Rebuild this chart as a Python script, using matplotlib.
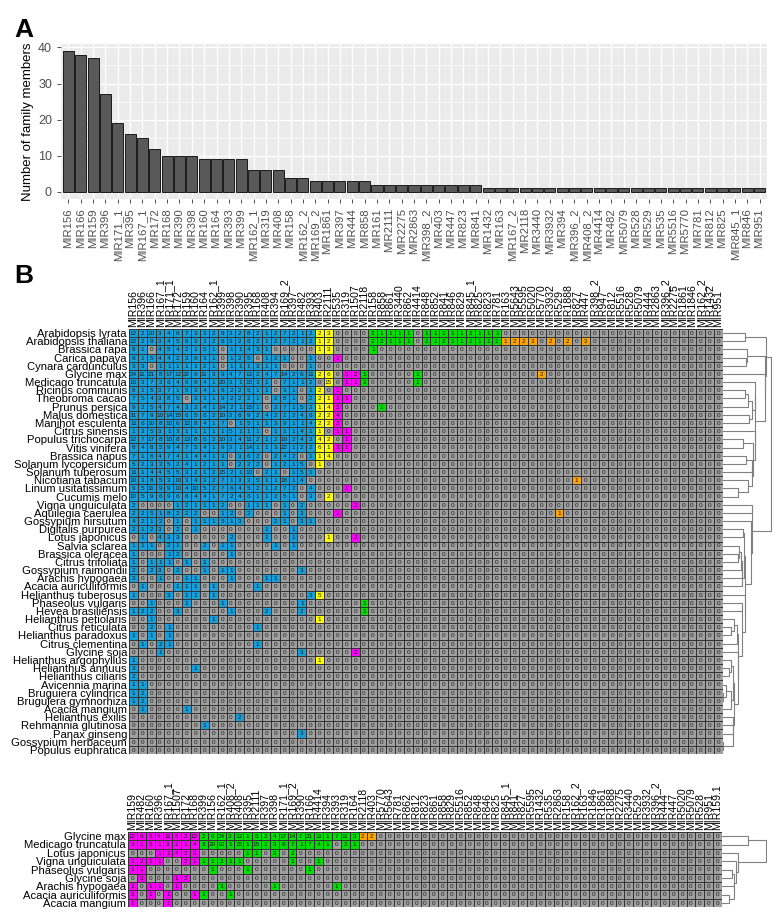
import numpy as np
import matplotlib
matplotlib.use("Agg")
import matplotlib.pyplot as plt
from matplotlib.colors import ListedColormap

plt.rcParams['font.family'] = ['Liberation Sans', 'DejaVu Sans']

# ---- Panel A: miRNA family sizes ----
fam_names = ['MIR156', 'MIR166', 'MIR159', 'MIR396', 'MIR171_1', 'MIR395', 'MIR167_1',
             'MIR172', 'MIR168', 'MIR390', 'MIR398', 'MIR160', 'MIR164', 'MIR393',
             'MIR399', 'MIR162_1', 'MIR319', 'MIR408', 'MIR158', 'MIR162_2', 'MIR169_2',
             'MIR1861', 'MIR397', 'MIR444', 'MIR858', 'MIR161', 'MIR2111', 'MIR2275',
             'MIR2863', 'MIR398_2', 'MIR403', 'MIR447', 'MIR823', 'MIR841', 'MIR1432',
             'MIR163', 'MIR167_2', 'MIR2118', 'MIR3440', 'MIR3932', 'MIR394', 'MIR396_2',
             'MIR408_2', 'MIR4414', 'MIR482', 'MIR5079', 'MIR528', 'MIR529', 'MIR535',
             'MIR5516', 'MIR5770', 'MIR781', 'MIR812', 'MIR825', 'MIR845_1', 'MIR846',
             'MIR951']
fam_sizes = [39, 38, 37, 27, 19, 16, 15, 12, 10, 10, 10, 9, 9, 9, 9, 6, 6, 6, 4, 4, 3,
             3, 3, 3, 3, 2, 2, 2, 2, 2, 2, 2, 2, 2, 1, 1, 1, 1, 1, 1, 1, 1, 1, 1, 1, 1,
             1, 1, 1, 1, 1, 1, 1, 1, 1, 1, 1]

# ---- Panel B: members per species (missing trailing values are 0) ----
b_mirs = ['MIR156', 'MIR396', 'MIR166', 'MIR167_1', 'MIR171_1', 'MIR172', 'MIR159',
          'MIR160', 'MIR164', 'MIR162_1', 'MIR399', 'MIR398', 'MIR390', 'MIR395',
          'MIR168', 'MIR408', 'MIR394', 'MIR169_2', 'MIR397', 'MIR482', 'MIR393',
          'MIR403', 'MIR2111', 'MIR535', 'MIR319', 'MIR1507', 'MIR2118', 'MIR158',
          'MIR858', 'MIR861', 'MIR3440', 'MIR862', 'MIR4414', 'MIR848', 'MIR852',
          'MIR841', 'MIR846', 'MIR829', 'MIR845_1', 'MIR825', 'MIR823', 'MIR781',
          'MIR163', 'MIR5643', 'MIR5595', 'MIR5020', 'MIR5770', 'MIR3932', 'MIR529',
          'MIR1888', 'MIR827', 'MIR447', 'MIR398_2', 'MIR947', 'MIR812', 'MIR5516',
          'MIR528', 'MIR5079', 'MIR444', 'MIR2863', 'MIR396_2', 'MIR2275', 'MIR1861',
          'MIR1846', 'MIR162_2', 'MIR1432', 'MIR951']
b_species = ['Arabidopsis lyrata', 'Arabidopsis thaliana', 'Brassica rapa', 'Carica papaya',
             'Cynara cardunculus', 'Glycine max', 'Medicago truncatula', 'Ricinus communis',
             'Theobroma cacao', 'Prunus persica', 'Malus domestica', 'Manihot esculenta',
             'Citrus sinensis', 'Populus trichocarpa', 'Vitis vinifera', 'Brassica napus',
             'Solanum lycopersicum', 'Solanum tuberosum', 'Nicotiana tabacum',
             'Linum usitatissimum', 'Cucumis melo', 'Vigna unguiculata', 'Aquilegia caerulea',
             'Gossypium hirsutum', 'Digitalis purpurea', 'Lotus japonicus', 'Salvia sclarea',
             'Brassica oleracea', 'Citrus trifoliata', 'Gossypium raimondii',
             'Arachis hypogaea', 'Acacia auriculiformis', 'Helianthus tuberosus',
             'Phaseolus vulgaris', 'Hevea brasiliensis', 'Helianthus petiolaris',
             'Citrus reticulata', 'Helianthus paradoxus', 'Citrus clementina', 'Glycine soja',
             'Helianthus argophyllus', 'Helianthus annuus', 'Helianthus ciliaris',
             'Avicennia marina', 'Bruguiera cylindrica', 'Bruguiera gymnorhiza',
             'Acacia mangium', 'Helianthus exilis', 'Rehmannia glutinosa', 'Panax ginseng',
             'Gossypium herbaceum', 'Populus euphratica']
b_counts = [
    [12, 2, 10, 3, 4, 6, 7, 3, 3, 2, 9, 3, 2, 8, 2, 1, 2, 7, 2, 1, 2, 2, 3, 0, 0, 0,
     0, 2, 1, 1, 1, 1, 0, 1, 1, 1, 1, 1, 2, 1, 1, 1],
    [12, 2, 9, 3, 4, 5, 6, 3, 3, 2, 6, 3, 2, 6, 2, 1, 2, 7, 2, 1, 2, 1, 2, 0, 0, 0,
     0, 2, 2, 1, 1, 1, 0, 1, 1, 2, 1, 1, 2, 1, 1, 2, 1, 2, 2, 3, 0, 2, 0, 2, 0, 3],
    [8, 1, 0, 4, 5, 4, 2, 1, 5, 1, 0, 1, 1, 4, 3, 1, 0, 0, 0, 0, 0, 1, 3, 0, 0, 0, 0, 1],
    [6, 1, 5, 4, 4, 2, 3, 6, 3, 1, 0, 1, 2, 5, 0, 1, 2, 1, 0, 0, 1, 0, 0, 1],
    [3, 3, 0, 1, 1, 1, 1, 1, 2, 1, 0, 1, 1, 1, 3, 1, 1, 0, 0, 0, 1],
    [24, 11, 21, 8, 17, 12, 22, 6, 11, 3, 9, 4, 7, 13, 2, 4, 7, 14, 2, 6, 11, 2, 6, 0, 3, 2,
     1, 0, 0, 0, 0, 0, 1, 0, 0, 0, 0, 0, 0, 0, 0, 0, 0, 0, 0, 0, 2],
    [10, 3, 7, 2, 6, 4, 6, 6, 4, 1, 20, 3, 1, 15, 3, 1, 0, 7, 1, 1, 2, 0, 15, 0, 1, 1,
     1, 0, 0, 0, 0, 0, 1],
    [8, 1, 5, 3, 7, 1, 5, 3, 4, 1, 6, 2, 2, 5, 1, 1, 0, 3, 1, 0, 1, 2, 0, 1],
    [7, 5, 4, 3, 8, 5, 0, 3, 3, 1, 9, 2, 2, 2, 1, 0, 2, 8, 1, 0, 2, 2, 1, 1, 1],
    [9, 2, 5, 4, 7, 4, 3, 2, 4, 1, 14, 2, 1, 15, 1, 0, 2, 7, 1, 5, 2, 1, 4, 2, 0, 0, 0, 0, 1],
    [31, 7, 9, 10, 14, 15, 6, 5, 6, 2, 10, 3, 6, 9, 2, 4, 2, 1, 2, 4, 6, 2, 2, 4],
    [11, 6, 10, 8, 10, 6, 12, 8, 4, 1, 7, 0, 1, 5, 1, 1, 3, 9, 1, 1, 4, 2, 2, 2],
    [1, 3, 5, 3, 1, 3, 1, 1, 1, 1, 1, 5, 1, 1, 1, 0, 1, 1, 1, 4, 1, 1, 0, 1, 1],
    [12, 7, 17, 8, 10, 8, 13, 8, 6, 2, 10, 3, 4, 11, 2, 1, 2, 10, 2, 4, 3, 4, 2, 0, 1],
    [8, 4, 8, 5, 9, 4, 7, 5, 4, 1, 9, 3, 1, 14, 1, 1, 3, 22, 1, 2, 2, 6, 1, 3, 1],
    [7, 1, 6, 4, 7, 4, 1, 4, 4, 1, 3, 0, 3, 6, 2, 0, 2, 4, 2, 0, 1, 1, 4],
    [5, 2, 3, 2, 5, 2, 4, 1, 2, 1, 1, 0, 2, 2, 2, 0, 1, 2, 1, 5, 0, 1],
    [11, 1, 4, 4, 5, 5, 3, 2, 1, 2, 15, 2, 1, 10, 0, 2, 1, 0, 1, 5, 1],
    [10, 3, 8, 5, 3, 10, 3, 4, 3, 2, 7, 1, 3, 3, 5, 1, 1, 18, 1, 4, 0, 0, 0, 0, 0, 0,
     0, 0, 0, 0, 0, 0, 0, 0, 0, 0, 0, 0, 0, 0, 0, 0, 0, 0, 0, 0, 0, 0, 0, 0, 1],
    [9, 5, 11, 9, 9, 10, 4, 10, 5, 2, 7, 6, 4, 5, 2, 1, 2, 7, 2, 0, 4, 0, 0, 0, 1],
    [10, 5, 9, 6, 9, 6, 6, 4, 4, 1, 7, 2, 4, 6, 1, 1, 2, 5, 1, 0, 3, 0, 2],
    [2, 0, 0, 0, 0, 1, 2, 1, 1, 1, 2, 0, 0, 1, 1, 1, 0, 1, 0, 2, 0, 0, 0, 0, 0, 2],
    [2, 2, 5, 1, 8, 2, 2, 2, 0, 0, 1, 2, 0, 2, 0, 0, 0, 1, 0, 3, 0, 0, 0, 1, 0, 0,
     0, 0, 0, 0, 0, 0, 0, 0, 0, 0, 0, 0, 0, 0, 0, 0, 0, 0, 0, 0, 0, 0, 1],
    [4, 2, 1, 2, 0, 1, 0, 1, 1, 1, 5, 1, 3, 0, 0, 0, 2, 1, 0, 3, 1],
    [2, 1, 2, 3, 0, 2, 0, 1, 0, 0, 0, 0, 0, 0, 0, 1, 0, 0, 1],
    [0, 1, 0, 4, 3, 3, 0, 0, 0, 0, 0, 2, 0, 0, 0, 1, 0, 0, 1, 0, 0, 0, 1, 0, 0, 2],
    [1, 1, 1, 0, 2, 1, 0, 0, 2, 0, 1, 1, 0, 0, 0, 0, 1, 0, 1],
    [1, 0, 0, 0, 1, 2, 0, 0, 0, 0, 0, 1],
    [1, 0, 1, 1, 1, 0, 1, 0, 1],
    [2, 0, 2, 3, 0, 2, 0, 0, 1, 0, 1, 1, 0, 0, 0, 0, 0, 0, 0, 3],
    [3, 0, 0, 1, 0, 0, 1, 1, 0, 0, 0, 1, 0, 0, 0, 1, 1],
    [0, 1, 0, 0, 0, 1, 1, 1, 0, 1, 0, 0, 0, 0, 1],
    [1, 0, 0, 0, 3, 0, 1, 1, 0, 1, 0, 0, 0, 0, 0, 0, 0, 0, 0, 0, 3, 5],
    [0, 0, 1, 0, 0, 0, 1, 0, 0, 0, 1, 0, 0, 0, 0, 0, 0, 0, 0, 1, 0, 0, 0, 0, 0, 0, 1],
    [1, 2, 2, 0, 0, 3, 0, 0, 0, 0, 0, 1, 0, 0, 0, 2, 0, 0, 0, 2, 0, 0, 0, 0, 0, 0, 1],
    [0, 0, 1, 0, 0, 0, 0, 0, 0, 1, 0, 0, 0, 0, 0, 0, 0, 0, 0, 0, 0, 1],
    [0, 0, 2, 0, 1, 0, 0, 0, 0, 0, 0, 0, 0, 0, 1],
    [1, 0, 1, 0, 1],
    [0, 1, 0, 2, 1, 0, 0, 0, 0, 0, 0, 0, 0, 0, 1],
    [0, 0, 0, 1, 0, 0, 0, 0, 0, 0, 0, 0, 0, 0, 0, 0, 0, 0, 0, 3, 0, 0, 0, 0, 0, 2],
    [1, 0, 0, 0, 0, 0, 0, 0, 0, 0, 0, 0, 0, 0, 0, 0, 0, 0, 0, 0, 0, 1],
    [3, 0, 0, 0, 0, 0, 0, 1],
    [2],
    [1, 1],
    [1, 2],
    [1, 2],
    [0, 1, 0, 0, 0, 0, 1],
    [0, 0, 0, 0, 0, 0, 0, 0, 0, 0, 0, 0, 2],
    [0, 0, 0, 0, 0, 0, 0, 0, 1],
    [0, 0, 0, 0, 0, 0, 0, 0, 0, 0, 0, 0, 0, 0, 0, 0, 0, 0, 0, 3],
    [],
    [],
]
# colour class of each column group: blue, yellow, magenta, green, orange, grey
b_group_sizes = [21, 2, 3, 16, 10, 15]

# ---- Panel C: legumes ----
c_mirs = ['MIR159', 'MIR482', 'MIR160', 'MIR396', 'MIR167_1', 'MIR1507', 'MIR172', 'MIR168',
          'MIR399', 'MIR156', 'MIR162_1', 'MIR408_2', 'MIR408', 'MIR395', 'MIR2111',
          'MIR397', 'MIR398', 'MIR171_1', 'MIR169_2', 'MIR390', 'MIR166', 'MIR4414',
          'MIR394', 'MIR393', 'MIR319', 'MIR164', 'MIR2118', 'MIR403', 'MIR5770',
          'MIR5643', 'MIR781', 'MIR862', 'MIR812', 'MIR823', 'MIR861', 'MIR858',
          'MIR829', 'MIR5516', 'MIR852', 'MIR848', 'MIR846', 'MIR825', 'MIR845_1',
          'MIR841', 'MIR827', 'MIR5595', 'MIR1432', 'MIR535', 'MIR2863', 'MIR158',
          'MIR162_2', 'MIR163', 'MIR1846', 'MIR1861', 'MIR1888', 'MIR2275', 'MIR3440',
          'MIR529', 'MIR3932', 'MIR396_2', 'MIR444', 'MIR447', 'MIR5020', 'MIR5079',
          'MIR528', 'MIR951', 'MIR159.1']
c_species = ['Glycine max', 'Medicago truncatula', 'Lotus japonicus', 'Vigna unguiculata',
             'Phaseolus vulgaris', 'Glycine soja', 'Arachis hypogaea',
             'Acacia auriculiformis', 'Acacia mangium']
c_counts = [
    [22, 6, 6, 4, 11, 8, 2, 12, 2, 9, 24, 3, 13, 1, 6, 2, 4, 17, 14, 7, 21, 11, 1, 7, 11, 3, 2, 2],
    [6, 1, 6, 1, 3, 2, 1, 4, 3, 20, 10, 1, 15, 1, 15, 1, 3, 6, 7, 1, 7, 4, 1, 0, 2, 1],
    [0, 0, 0, 1, 1, 4, 2, 3, 0, 0, 0, 0, 0, 1, 1, 0, 3, 0, 2],
    [2, 2, 1, 1, 0, 0, 2, 1, 1, 2, 2, 1, 1, 0, 0, 0, 0, 0, 1, 0, 0, 1],
    [1, 1, 0, 0, 0, 0, 0, 0, 0, 1, 0, 0, 0, 1, 0, 0, 0, 0, 0, 0, 1],
    [0, 3, 0, 0, 0, 1, 2, 0],
    [1, 0, 1, 1, 0, 1, 0, 0, 0, 0, 3, 0, 0, 0, 0, 0, 1, 0, 0, 0, 0, 0, 0, 1],
    [1, 0, 1, 0, 1, 0, 0, 1, 1, 0, 0, 1],
    [1, 0, 0, 0, 1],
]
# colour classes: magenta, green, orange, grey
c_group_sizes = [8, 18, 2, 39]

W, H = 777, 922
pal = ['#A0A0A0', '#14A0DC', '#FFFF00', '#FF00FF', '#00E000', '#FFA500']


def box(l, t, r, b):
    return [l / W, 1 - b / H, (r - l) / W, (b - t) / H]


def pad(rows, m):
    return np.array([list(r) + [0] * (m - len(r)) for r in rows], dtype=float)


def ordered_tree(mat):
    # average linkage, only neighbouring clusters may merge (keeps row order)
    X = np.sqrt(mat)
    groups = [[i] for i in range(len(X))]
    ys = [i + 0.5 for i in range(len(X))]
    hs = [0.0] * len(X)
    segs = []
    while len(groups) > 1:
        d = [np.mean([np.linalg.norm(X[a] - X[b]) for a in groups[k] for b in groups[k + 1]])
             for k in range(len(groups) - 1)]
        k = int(np.argmin(d))
        h = max(d[k], hs[k], hs[k + 1]) + 0.05
        segs.append(([hs[k], h, h, hs[k + 1]], [ys[k], ys[k], ys[k + 1], ys[k + 1]]))
        groups[k:k + 2] = [groups[k] + groups[k + 1]]
        ys[k:k + 2] = [(ys[k] + ys[k + 1]) / 2]
        hs[k:k + 2] = [h]
    return segs, hs[0]


def heat(rect, drect, species, mirs, counts, group_sizes, classes):
    m = len(mirs)
    mat = pad(counts, m)
    col_cls = np.repeat(classes, group_sizes)
    codes = np.where(mat > 0, col_cls[None, :], 0)
    ax = fig.add_axes(box(*rect))
    ax.pcolormesh(np.arange(m + 1), np.arange(len(species) + 1), codes,
                  cmap=ListedColormap(pal), vmin=-0.5, vmax=5.5,
                  edgecolors='#333333', linewidth=0.5)
    for i in range(len(species)):
        for j in range(m):
            ax.text(j + 0.5, i + 0.55, '%d' % mat[i, j], ha='center', va='center',
                    fontsize=4.6, color='#1a1a1a')
    ax.set_xlim(0, m)
    ax.set_ylim(len(species), 0)
    ax.xaxis.tick_top()
    ax.set_xticks(np.arange(m) + 0.5)
    ax.set_xticklabels(mirs, rotation=90, fontsize=7.6)
    ax.set_yticks(np.arange(len(species)) + 0.5)
    ax.set_yticklabels(species, fontsize=8.1)
    ax.tick_params(length=0, pad=1.5)
    for s in ax.spines.values():
        s.set_visible(False)

    # dendrogram of the rows
    dax = fig.add_axes(box(*drect))
    segs, top = ordered_tree(mat)
    for xs, ys in segs:
        dax.plot(xs, ys, color='#808080', lw=0.8)
    dax.set_xlim(0, top * 1.02)
    dax.set_ylim(len(species), 0)
    dax.axis('off')


fig = plt.figure(figsize=(W / 100, H / 100), dpi=100)

# Panel A
ax = fig.add_axes(box(61, 44, 767, 199))
ax.set_facecolor('#EBEBEB')
x = np.arange(len(fam_names))
ax.bar(x, fam_sizes, width=0.9, color='#595959', edgecolor='#1a1a1a', linewidth=0.7, zorder=3)
ax.set_xlim(-0.6, len(fam_names) - 0.4)
ax.set_ylim(-1.95, 40.95)
ax.set_yticks([0, 10, 20, 30, 40])
ax.set_yticks([5, 15, 25, 35], minor=True)
ax.set_xticks(x)
ax.set_xticklabels(fam_names, rotation=90, fontsize=8.2, color='#4D4D4D')
ax.tick_params(axis='y', labelsize=9, labelcolor='#4D4D4D')
ax.tick_params(which='major', length=3, width=0.6, color='#333333')
ax.tick_params(which='minor', length=0)
ax.grid(True, which='major', color='white', lw=1.0, zorder=0)
ax.grid(True, which='minor', axis='y', color='white', lw=0.5, zorder=0)
ax.set_axisbelow(True)
for s in ax.spines.values():
    s.set_visible(False)
ax.set_ylabel('Number of family members', fontsize=9.5, labelpad=3)

# Panel B and C
heat((129, 329, 723, 754), (723, 329, 772, 754), b_species, b_mirs, b_counts,
     b_group_sizes, [1, 2, 3, 4, 5, 0])
heat((128, 832, 722, 907), (722, 832, 767, 907), c_species, c_mirs, c_counts,
     c_group_sizes, [3, 4, 5, 0])

fig.text(14 / W, 1 - 37 / H, 'A', fontsize=19, fontweight='bold')
fig.text(14 / W, 1 - 283 / H, 'B', fontsize=19, fontweight='bold')

fig.savefig('out.png', dpi=100)
